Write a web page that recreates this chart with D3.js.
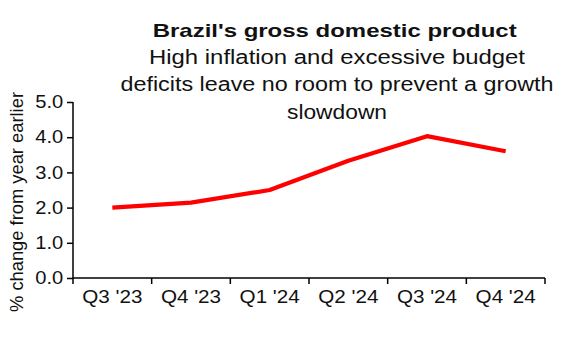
<!DOCTYPE html>
<html><head><meta charset="utf-8">
<script src="https://cdn.jsdelivr.net/npm/d3@7"></script>
<style>body{margin:0;background:#fff}svg{display:block}text{font-family:Arial,"Liberation Sans",sans-serif;fill:#111}</style>
</head><body><svg id="c" width="580" height="360"></svg>
<script>
const categories = ["Q3 '23","Q4 '23","Q1 '24","Q2 '24","Q3 '24","Q4 '24"];
const values = [2.0, 2.14, 2.5, 3.33, 4.03, 3.6];
const yTicks = [0,1,2,3,4,5];
const title = "Brazil's gross domestic product";
const subtitle = ["High inflation and excessive budget","deficits leave no room to prevent a growth","slowdown"];
const subtitleWidths = [376, 433, 100];
const yLabel = "% change from year earlier";

const svg = d3.select("#c");
const L=73,R=545,T=102,B=278;
const x = d3.scaleBand().domain(categories).range([L,R]);
const y = d3.scaleLinear().domain([0,5]).range([B,T]);

const ya = svg.append("g").attr("transform",`translate(${L},0)`)
  .call(d3.axisLeft(y).tickValues(yTicks).tickFormat(d3.format(".1f")).tickSize(6).tickPadding(4));
const xa = svg.append("g").attr("transform",`translate(0,${B})`)
  .call(d3.axisBottom(x).tickSize(0).tickPadding(13));
xa.selectAll(".tick line").remove();
const bounds = categories.map(c=>x(c)).concat([R]);
xa.selectAll(".bt").data(bounds).enter().append("line")
  .attr("x1",d=>d).attr("x2",d=>d).attr("y1",0).attr("y2",6).attr("stroke","#000").attr("stroke-width",1.5);
svg.selectAll(".domain").attr("stroke","#000").attr("stroke-width",1.5);
ya.selectAll(".tick line").attr("stroke","#000").attr("stroke-width",1.5);
xa.select(".domain").attr("d",`M${L},0H${R}`);
ya.select(".domain").attr("d",`M0,${T}V${B}`);
svg.selectAll(".tick text").attr("font-size",17.5).attr("fill","#111").attr("font-family","Arial, Liberation Sans, sans-serif");
xa.selectAll(".tick text").attr("transform","scale(1.18,1)");
ya.selectAll(".tick text").attr("transform","scale(1.15,1)").attr("x",-8.5);

const line = d3.line().x((d,i)=>x(categories[i])+x.bandwidth()/2).y(d=>y(d));
svg.append("path").datum(values).attr("d",line).attr("fill","none").attr("stroke","#ff0000").attr("stroke-width",4.2).attr("stroke-linejoin","round");

svg.append("text").attr("x",334.7).attr("y",36.7).attr("text-anchor","middle").attr("font-size",18.6).attr("font-weight","bold")
  .attr("textLength",364).attr("lengthAdjust","spacingAndGlyphs").text(title);
subtitle.forEach((s,i)=>svg.append("text").attr("x",337).attr("y",63.5+i*27.5).attr("text-anchor","middle").attr("font-size",19.5)
  .attr("textLength",subtitleWidths[i]).attr("lengthAdjust","spacingAndGlyphs").text(s));
svg.append("text").attr("transform","translate(23,202) rotate(-90)").attr("text-anchor","middle").attr("font-size",17.5)
  .attr("textLength",220).attr("lengthAdjust","spacingAndGlyphs").text(yLabel);
</script></body></html>
